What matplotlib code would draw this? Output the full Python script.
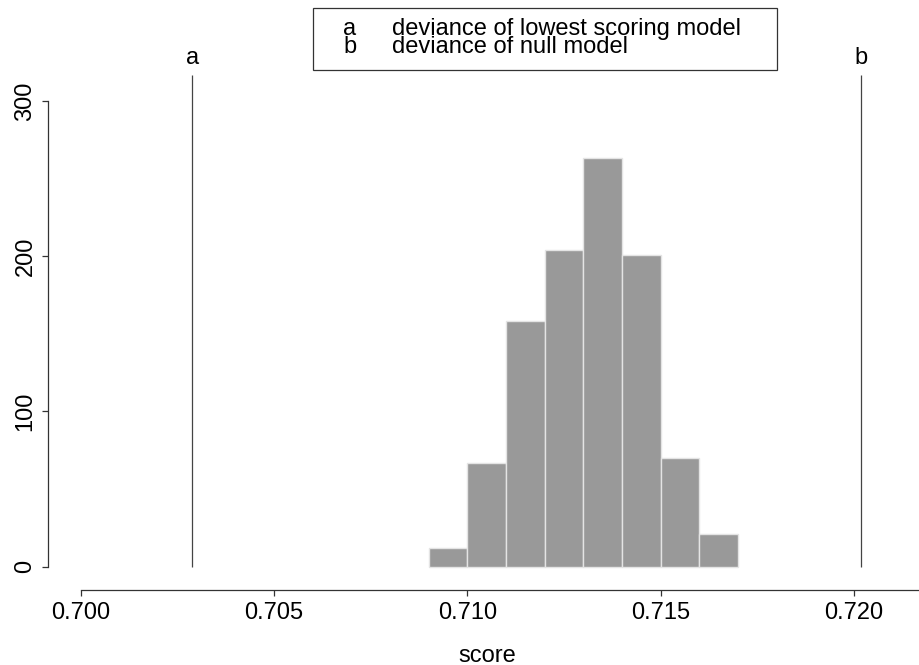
import matplotlib
matplotlib.use("Agg")
import matplotlib.pyplot as plt
from matplotlib.patches import Rectangle

plt.rcParams['font.family'] = ['Liberation Sans', 'DejaVu Sans']

# histogram of scores (bin starts, width 0.001)
bin_starts = [0.709, 0.710, 0.711, 0.712, 0.713, 0.714, 0.715, 0.716]
counts = [12, 67, 158, 204, 263, 201, 70, 21]
bin_width = 0.001

# reference deviances
ref_names = ["a", "b"]
ref_scores = [0.70288, 0.72017]
ref_desc = ["deviance of lowest scoring model", "deviance of null model"]

x_ticks = [0.700, 0.705, 0.710, 0.715, 0.720]
y_ticks = [0, 100, 200, 300]

W, H = 919, 665
fig = plt.figure(figsize=(W / 100, H / 100), dpi=100)


def fx(px):
    return px / W


def fy(py):
    return 1 - py / H


# axes from pixel 48 (left) to 919 (right), 40 (top) to 590 (bottom)
ax = fig.add_axes([fx(48), fy(590), fx(919 - 48), (590 - 40) / H])
ax.set_xlim(0.699154, 0.721678)
ax.set_ylim(-15.0, 339.3)

ax.bar(bin_starts, counts, width=bin_width, align='edge',
       color='#999999', edgecolor='#e4e4e4', linewidth=1.0)

line_top = 316.8
ax.vlines(ref_scores, 0, line_top, colors='#444444', linewidth=0.9)
for name, sc in zip(ref_names, ref_scores):
    ax.text(sc, 323.8, name, ha='center', va='baseline', fontsize=17,
            clip_on=False)

for side in ['top', 'right']:
    ax.spines[side].set_visible(False)
ax.spines['left'].set_bounds(0, 300)
ax.spines['bottom'].set_bounds(0.700, 0.721678)
for side in ['left', 'bottom']:
    ax.spines[side].set_color('#333333')
    ax.spines[side].set_linewidth(0.9)

ax.set_xticks(x_ticks)
ax.set_xticklabels(["%.3f" % v for v in x_ticks])
ax.set_yticks(y_ticks)
ax.set_yticklabels([str(v) for v in y_ticks])
ax.tick_params(axis='both', length=4.3, width=0.9, color='#333333',
               labelsize=17)
ax.tick_params(axis='x', pad=4.5)
ax.tick_params(axis='y', pad=4, labelrotation=90)
for lab in ax.get_yticklabels():
    lab.set_va('center')

fig.text(fx(487), fy(662), "score", ha='center', va='baseline', fontsize=17)

# legend box
fig.add_artist(Rectangle((fx(313), fy(70)), fx(777 - 313), (70 - 8) / H,
                         transform=fig.transFigure, fill=False,
                         edgecolor='#333333', linewidth=0.9))
for i, (name, desc) in enumerate(zip(ref_names, ref_desc)):
    base = 35 + 18 * i
    fig.text(fx(350), fy(base), name, ha='center', va='baseline', fontsize=17)
    fig.text(fx(392), fy(base), desc, ha='left', va='baseline', fontsize=17)

fig.savefig("out.png", dpi=100)
